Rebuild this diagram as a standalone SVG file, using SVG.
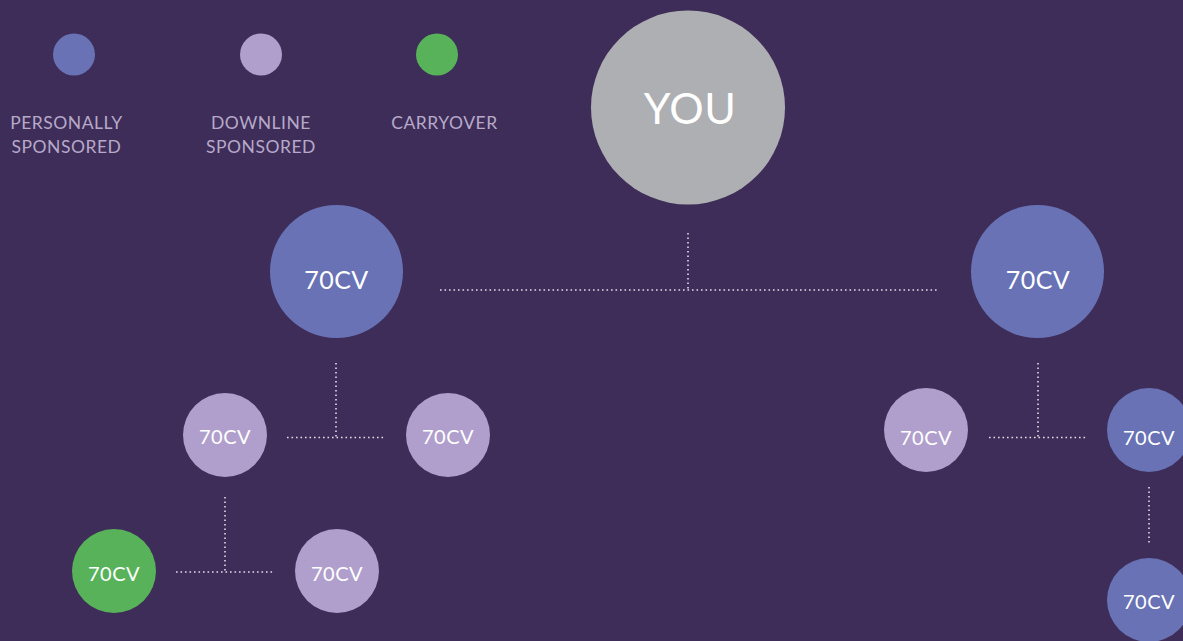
<svg xmlns="http://www.w3.org/2000/svg" width="1183" height="641" viewBox="0 0 1183 641">
<style>
.bg{fill:#3E2D58}
.ps{fill:#6872B5}
.ds{fill:#B09FCC}
.co{fill:#58B25A}
.you{fill:#AEAFB2}
.lbl{font-family:Lato,"Liberation Sans",sans-serif;fill:#FFFFFF;text-anchor:middle;font-weight:400;letter-spacing:0.5px}
.leg{font-family:Lato,"Liberation Sans",sans-serif;fill:#B6A9CA;font-size:17.5px;text-anchor:middle;letter-spacing:0.5px;font-weight:400}
.dot{stroke:#E2DBE9;stroke-width:1.6;stroke-dasharray:1.6 2.9;fill:none}
</style>
<rect class="bg" x="0" y="0" width="1183" height="641"/>
<g id="legend">
<circle class="ps" cx="74" cy="54.5" r="21"/>
<circle class="ds" cx="261" cy="54.5" r="21"/>
<circle class="co" cx="437" cy="54.5" r="21"/>
<text class="leg" x="66.5" y="129">PERSONALLY</text>
<text class="leg" x="66.5" y="153">SPONSORED</text>
<text class="leg" x="261" y="129">DOWNLINE</text>
<text class="leg" x="261" y="153">SPONSORED</text>
<text class="leg" x="444.5" y="129">CARRYOVER</text>
</g>
<g id="connectors">
<line class="dot" x1="688" y1="233" x2="688" y2="290"/>
<line class="dot" x1="440" y1="290" x2="937" y2="290"/>
<line class="dot" x1="336" y1="363" x2="336" y2="437.5"/>
<line class="dot" x1="287" y1="437.5" x2="385" y2="437.5"/>
<line class="dot" x1="1038" y1="363" x2="1038" y2="437.5"/>
<line class="dot" x1="989" y1="437.5" x2="1087" y2="437.5"/>
<line class="dot" x1="225" y1="497" x2="225" y2="572"/>
<line class="dot" x1="176" y1="572" x2="275" y2="572"/>
<line class="dot" x1="1149" y1="487" x2="1149" y2="545"/>
</g>
<g id="you">
<circle class="you" cx="688" cy="107.5" r="97"/>
<text class="lbl" x="690" y="124" font-size="43" font-weight="300">YOU</text>
</g>
<g id="left-ps">
<circle class="ps" cx="336.5" cy="271.5" r="66.5"/>
<text class="lbl" x="336.5" y="289" font-size="25">70CV</text>
</g>
<g id="right-ps">
<circle class="ps" cx="1037.5" cy="271.5" r="66.5"/>
<text class="lbl" x="1038" y="289" font-size="25">70CV</text>
</g>
<g id="left-a">
<circle class="ds" cx="225" cy="435" r="42"/>
<text class="lbl" x="225" y="444" font-size="20">70CV</text>
</g>
<g id="left-b">
<circle class="ds" cx="448" cy="435" r="42"/>
<text class="lbl" x="448" y="444" font-size="20">70CV</text>
</g>
<g id="right-a">
<circle class="ds" cx="926" cy="430" r="42"/>
<text class="lbl" x="926" y="445" font-size="20">70CV</text>
</g>
<g id="right-b">
<circle class="ps" cx="1149" cy="430" r="42"/>
<text class="lbl" x="1149" y="445" font-size="20">70CV</text>
</g>
<g id="left-carry">
<circle class="co" cx="114" cy="571" r="42"/>
<text class="lbl" x="114" y="581" font-size="20">70CV</text>
</g>
<g id="left-c">
<circle class="ds" cx="337" cy="571" r="42"/>
<text class="lbl" x="337" y="581" font-size="20">70CV</text>
</g>
<g id="right-c">
<circle class="ps" cx="1149" cy="600" r="42"/>
<text class="lbl" x="1149" y="609" font-size="20">70CV</text>
</g>
</svg>
